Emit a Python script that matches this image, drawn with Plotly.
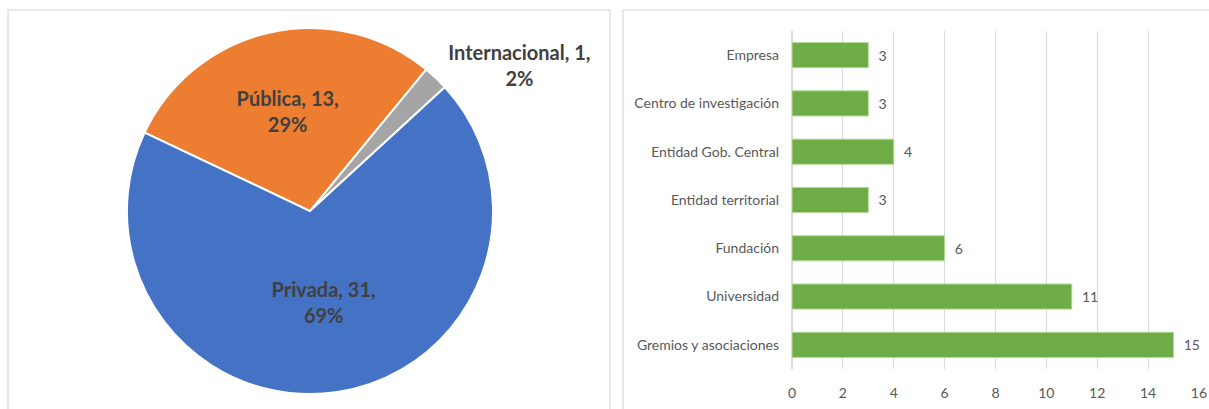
import plotly.graph_objects as go

# Pie data
pie_labels = ["Pública", "Internacional", "Privada"]
pie_values = [13, 1, 31]
pie_colors = ["#ED7D31", "#A5A5A5", "#4472C4"]

# Bar data
bar_categories = ["Empresa", "Centro de investigación", "Entidad Gob. Central",
                  "Entidad territorial", "Fundación", "Universidad",
                  "Gremios y asociaciones"]
bar_values = [3, 3, 4, 3, 6, 11, 15]
x_ticks = [0, 2, 4, 6, 8, 10, 12, 14, 16]

FONT = "Lato"
W, H = 1209, 409

fig = go.Figure()

fig.add_trace(go.Pie(
    labels=pie_labels, values=pie_values, sort=False, direction="clockwise",
    rotation=-64.6,
    marker=dict(colors=pie_colors, line=dict(color="white", width=2)),
    texttemplate="<b>%{label}, %{value},<br>%{percent:.0%}</b>",
    textposition=["inside", "outside", "inside"],
    insidetextorientation="horizontal",
    textfont=dict(family=FONT, size=20, color="#404040"),
    domain=dict(x=[0.105, 0.4078], y=[0.034, 0.934]),
    showlegend=False, hoverinfo="label+value+percent",
))

fig.add_trace(go.Bar(
    y=bar_categories, x=bar_values, orientation="h",
    marker=dict(color="#6EAD45", line=dict(color="#B5D89C", width=1)),
    width=0.52,
    text=bar_values, texttemplate="\u00a0\u00a0%{text}", textposition="outside",
    textfont=dict(family=FONT, size=14, color="#595959"),
    cliponaxis=False,
    xaxis="x2", yaxis="y2", showlegend=False,
))

fig.update_layout(
    width=W, height=H,
    margin=dict(l=0, r=0, t=0, b=0, autoexpand=False),
    paper_bgcolor="white", plot_bgcolor="white",
    font=dict(family=FONT, color="#595959"),
    xaxis2=dict(domain=[0.6551, 0.9917], range=[0, 16], tickvals=x_ticks,
                showgrid=True, gridcolor="#D9D9D9", gridwidth=1,
                zeroline=True, zerolinecolor="#D9D9D9", showline=False,
                anchor="y2", ticklabelstandoff=14, automargin=False,
                tickfont=dict(family=FONT, size=14, color="#595959")),
    yaxis2=dict(domain=[0.0978, 0.9242], anchor="x2", autorange="reversed",
                showgrid=False, showline=False, ticks="",
                ticklabelstandoff=12, automargin=False,
                tickfont=dict(family=FONT, size=14, color="#595959")),
    shapes=[
        dict(type="rect", xref="paper", yref="paper",
             x0=8 / W, x1=610 / W, y0=-0.02, y1=1 - 10 / H,
             line=dict(color="#DDE2E8", width=1.5)),
        dict(type="rect", xref="paper", yref="paper",
             x0=623 / W, x1=1.02, y0=-0.02, y1=1 - 10 / H,
             line=dict(color="#DDE2E8", width=1.5)),
    ],
)

fig.write_html(
    "out.html",
    config={"displayModeBar": False},
    post_script="document.body.style.margin='0';document.body.style.overflow='hidden';",
)
